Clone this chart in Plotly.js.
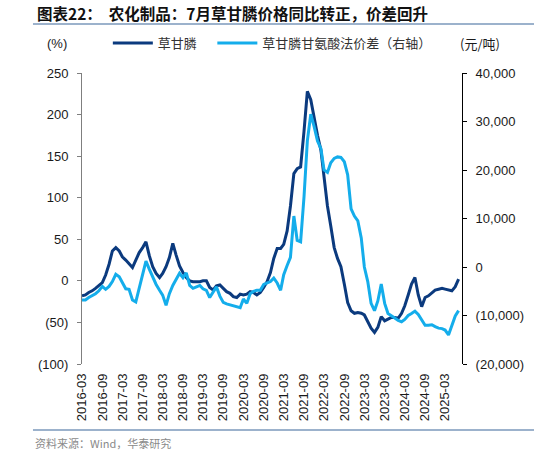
<!DOCTYPE html>
<html><head><meta charset="utf-8">
<script src="https://cdn.plot.ly/plotly-3.0.1.min.js"></script>
<style>html,body{margin:0;padding:0;background:#fff}#chart{width:534px;height:455px}</style>
</head><body><div id="chart"></div>
<script>
// Monthly series starting 2016-03, ending 2025-07
const startMonth = [2016, 3];
// 草甘膦价格同比 (%)
const glyphosateYoY = [
 -18,-17,-14,-12,-9,-6,-2,7,20,36,40,36,
 29,25,21,16,25,34,40,47,30,17,9,4,
 9,17,28,45,31,18,10,4,0,-1,-1,-1,
 0,0,-8,-11,-6,-5,-9,-13,-15,-19,-20,-16,
 -17,-16,-13,-14,-17,-14,-8,-1,10,27,39,39,
 44,60,90,129,135,137,180,228,218,195,175,157,
 128,90,66,40,27,17,-4,-26,-36,-39,-38,-39,
 -41,-49,-57,-62,-56,-43,-48,-46,-44,-44,-45,-39,
 -30,-17,-4,4,-17,-31,-20,-18,-15,-11,-10,-9,
 -10,-11,-12,-7,2
];
// 草甘膦甘氨酸法价差 (元/吨)
const glyphosateSpread = [
 -6800,-6800,-6300,-5900,-5500,-4900,-4000,-4600,-4000,-3000,-1500,-2000,
 -3300,-4500,-4600,-6800,-7200,-4500,-2000,1200,-500,-2200,-3600,-4800,
 -5800,-7900,-5500,-3800,-2500,-1300,-2200,-1200,-3800,-4400,-4100,-3800,
 -4500,-4800,-6300,-5100,-4100,-6000,-7300,-7600,-7800,-8000,-8200,-8400,
 -6600,-7500,-5500,-5000,-4800,-4800,-3600,-3300,-3000,-2300,-3300,-4800,
 -1600,300,2000,10500,5500,5200,14500,26000,31500,29000,26000,24400,
 20000,19500,21500,22400,22700,22600,21700,19000,12000,10500,9500,6000,
 0,-3000,-7500,-9000,-7000,-3500,-7500,-9600,-10000,-10500,-11000,-11300,
 -10800,-10000,-9600,-9100,-9800,-10800,-12000,-12000,-11900,-12300,-12600,-12700,
 -13000,-14000,-12000,-10100,-9000
];
const xTickVals = ['2016-03-01','2016-09-01','2017-03-01','2017-09-01','2018-03-01','2018-09-01','2019-03-01','2019-09-01','2020-03-01','2020-09-01','2021-03-01','2021-09-01','2022-03-01','2022-09-01','2023-03-01','2023-09-01','2024-03-01','2024-09-01','2025-03-01'];
const xTickText = ['2016-03','2016-09','2017-03','2017-09','2018-03','2018-09','2019-03','2019-09','2020-03','2020-09','2021-03','2021-09','2022-03','2022-09','2023-03','2023-09','2024-03','2024-09','2025-03'];
const leftTickVals = [250,200,150,100,50,0,-50,-100];
const leftTickText = ['250','200','150','100','50','0','(50)','(100)'];
const rightTickVals = [40000,30000,20000,10000,0,-10000,-20000];
const rightTickText = ['40,000','30,000','20,000','10,000','0','(10,000)','(20,000)'];
const seriesNames = ['草甘膦','草甘膦甘氨酸法价差（右轴）'];
const titleText = '<b>图表22：  农化制品：7月草甘膦价格同比转正，价差回升</b>';
const sourceText = '资料来源：Wind，华泰研究';

const months = glyphosateYoY.map((_, i) => {
  const m = startMonth[1] - 1 + i;
  const y = startMonth[0] + Math.floor(m / 12);
  return y + '-' + String(m % 12 + 1).padStart(2, '0') + '-01';
});

const xRange = ['2016-03-01', '2025-08-01'];
const tickFont = {family: 'Liberation Sans, Arial, sans-serif', size: 13, color: '#1a1a1a'};
const cjk = 'Noto Sans CJK SC, sans-serif';

const traces = [
  {x: months, y: glyphosateYoY, name: seriesNames[0], type: 'scatter', mode: 'lines',
   line: {color: '#0B3A7E', width: 3}, xaxis: 'x', yaxis: 'y', legend: 'legend'},
  {x: months, y: glyphosateSpread, name: seriesNames[1], type: 'scatter', mode: 'lines',
   line: {color: '#14ADEB', width: 3}, xaxis: 'x', yaxis: 'y2', legend: 'legend2'}
];

const legendBase = {orientation: 'h', xanchor: 'left', y: 1.103, yanchor: 'middle',
  font: {family: cjk, size: 13, color: '#333'}, itemwidth: 40, bgcolor: 'rgba(0,0,0,0)'};

const layout = {
  width: 534, height: 455,
  margin: {l: 82, r: 72, t: 73, b: 91},
  paper_bgcolor: '#fff', plot_bgcolor: '#fff',
  showlegend: true,
  legend: Object.assign({}, legendBase, {x: 0.068}),
  legend2: Object.assign({}, legendBase, {x: 0.343}),
  xaxis: {type: 'date', range: xRange, tickvals: xTickVals, ticktext: xTickText,
    tickangle: -90, tickfont: tickFont, showgrid: false, zeroline: false,
    showline: false, ticks: '', fixedrange: true, ticklabelstandoff: 6},
  xaxis2: {type: 'date', range: xRange, overlaying: 'x', anchor: 'free', position: 100/350,
    tickvals: xTickVals, showticklabels: false, ticks: 'outside', ticklen: 4,
    tickcolor: '#000', showline: true, linecolor: '#000', linewidth: 1,
    showgrid: false, zeroline: false, layer: 'below traces'},
  yaxis: {range: [-100, 250], tickvals: leftTickVals, ticktext: leftTickText,
    tickfont: tickFont, showgrid: false, zeroline: false, showline: true,
    linecolor: '#7f7f7f', linewidth: 1, ticks: 'outside', ticklen: 4, tickcolor: '#7f7f7f',
    ticklabelstandoff: 6},
  yaxis2: {range: [-20000, 40000], overlaying: 'y', side: 'right', tickvals: rightTickVals,
    ticktext: rightTickText, tickfont: tickFont, showgrid: false, zeroline: false,
    showline: true, linecolor: '#000', linewidth: 1, ticks: 'outside', ticklen: 4,
    tickcolor: '#000', ticklabelstandoff: 6},
  shapes: [
    {type: 'line', xref: 'paper', yref: 'paper', x0: -0.129, x1: 1.19, y0: 1.168, y1: 1.168,
     line: {color: '#9CB2CC', width: 2}},
    {type: 'line', xref: 'paper', yref: 'paper', x0: -0.129, x1: 1.19, y0: -0.227, y1: -0.227,
     line: {color: '#9CB2CC', width: 2}}
  ],
  annotations: [
    {text: titleText, xref: 'paper', yref: 'paper', x: -0.125, y: 1.206, xanchor: 'left',
     yanchor: 'middle', showarrow: false, font: {family: cjk, size: 15.5, color: '#111'}},
    {text: '(%)', xref: 'paper', yref: 'paper', x: -0.097, y: 1.103, xanchor: 'left',
     yanchor: 'middle', showarrow: false, font: {family: 'Liberation Sans, Arial', size: 13, color: '#1a1a1a'}},
    {text: '(元/吨)', xref: 'paper', yref: 'paper', x: 0.989, y: 1.103, xanchor: 'left',
     yanchor: 'middle', showarrow: false, font: {family: cjk, size: 13, color: '#1a1a1a'}},
    {text: sourceText, xref: 'paper', yref: 'paper', x: -0.129, y: -0.271, xanchor: 'left',
     yanchor: 'middle', showarrow: false, font: {family: cjk, size: 11, color: '#8a8a8a'}}
  ]
};

Plotly.newPlot('chart', traces, layout, {staticPlot: true, displayModeBar: false});
</script>
</body></html>
